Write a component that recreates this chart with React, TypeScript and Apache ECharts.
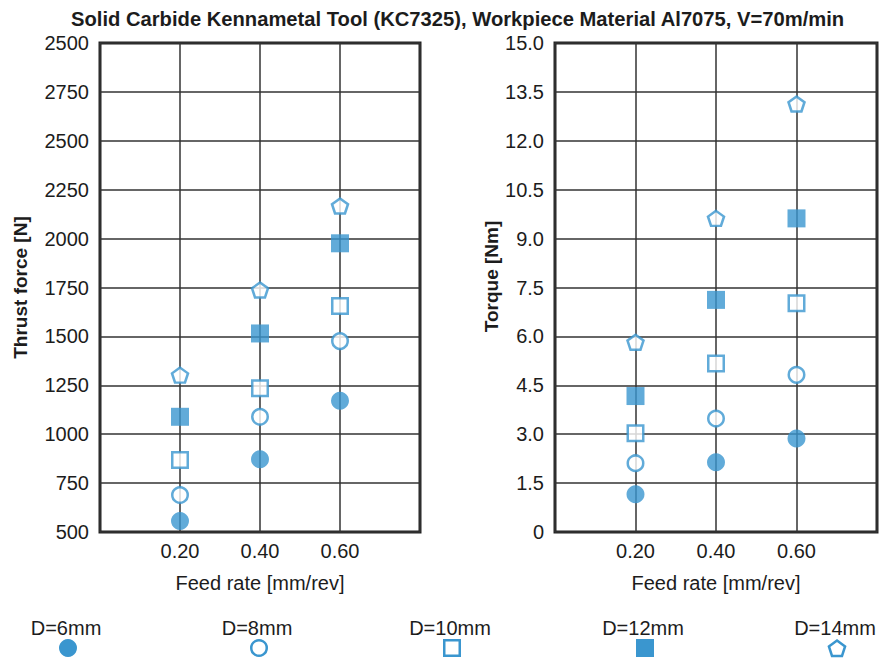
import React, { useEffect, useRef } from 'react';
import * as echarts from 'echarts';

const BLUE = '#3a96cf';
const INK = '#1c1c1c';
const GRIDC = '#333333';
const FONT = '"Liberation Sans", Arial, Helvetica, sans-serif';

const titleText = 'Solid Carbide Kennametal Tool (KC7325), Workpiece Material Al7075, V=70m/min';
const feedRates = [0.2, 0.4, 0.6];
const xTickLabels = ['', '0.20', '0.40', '0.60', ''];
const thrustTickLabels = ['500', '750', '1000', '1250', '1500', '1750', '2000', '2250', '2500', '2750', '2500'];
const torqueTickLabels = ['0', '1.5', '3.0', '4.5', '6.0', '7.5', '9.0', '10.5', '12.0', '13.5', '15.0'];
const diameterNames = ['D=6mm', 'D=8mm', 'D=10mm', 'D=12mm', 'D=14mm'];

// Thrust force [N]
const thrustD6 = [556, 872, 1171];
const thrustD8 = [689, 1089, 1476];
const thrustD10 = [868, 1235, 1655];
const thrustD12 = [1089, 1515, 1976];
const thrustD14 = [1302, 1737, 2167];

// Torque [Nm]
const torqueD6 = [1.16, 2.14, 2.87];
const torqueD8 = [2.11, 3.48, 4.82];
const torqueD10 = [3.03, 5.17, 7.02];
const torqueD12 = [4.17, 7.12, 9.62];
const torqueD14 = [5.82, 9.62, 13.13];

const thrustSets = [thrustD6, thrustD8, thrustD10, thrustD12, thrustD14];
const torqueSets = [torqueD6, torqueD8, torqueD10, torqueD12, torqueD14];

const PENT = 'path://M0,-100L95.1,-30.9L58.8,80.9L-58.8,80.9L-95.1,-30.9Z';

const markerStyles: any[] = [
  { symbol: 'circle', symbolSize: 18, itemStyle: { color: BLUE } },
  { symbol: 'circle', symbolSize: 15.5, itemStyle: { color: '#ffffff', borderColor: BLUE, borderWidth: 2.5 } },
  { symbol: 'rect', symbolSize: 15.5, itemStyle: { color: '#ffffff', borderColor: BLUE, borderWidth: 2.5 } },
  { symbol: 'rect', symbolSize: 18, itemStyle: { color: BLUE } },
  { symbol: PENT, symbolSize: [16, 15], itemStyle: { color: '#ffffff', borderColor: BLUE, borderWidth: 2.5 } },
];

const legendX = [68, 259, 452, 645, 837];

function legendMarker(i: number, x: number, y: number): any {
  const common = { x, y, silent: true };
  if (i === 0) return { type: 'circle', ...common, shape: { cx: 0, cy: 0, r: 9 }, style: { fill: BLUE } };
  if (i === 1) return { type: 'circle', ...common, shape: { cx: 0, cy: 0, r: 7.75 }, style: { fill: '#fff', stroke: BLUE, lineWidth: 2.5 } };
  if (i === 2) return { type: 'rect', ...common, shape: { x: -7.75, y: -7.75, width: 15.5, height: 15.5 }, style: { fill: '#fff', stroke: BLUE, lineWidth: 2.5 } };
  if (i === 3) return { type: 'rect', ...common, shape: { x: -9, y: -9, width: 18, height: 18 }, style: { fill: BLUE } };
  const r = 8.5;
  const pts: number[][] = [];
  for (let k = 0; k < 5; k++) {
    const a = -Math.PI / 2 + (k * 2 * Math.PI) / 5;
    pts.push([r * Math.cos(a), r * Math.sin(a) + 1]);
  }
  return { type: 'polygon', ...common, shape: { points: pts }, style: { fill: '#fff', stroke: BLUE, lineWidth: 2.5 } };
}

export default function App() {
  const ref = useRef<HTMLDivElement>(null);

  useEffect(() => {
    if (!ref.current) return;
    const chart = echarts.init(ref.current, null, { renderer: 'svg' });

    const xAxisBase = (gridIndex: number) => ({
      type: 'value',
      gridIndex,
      min: 0,
      max: 0.8,
      interval: 0.2,
      axisLine: { show: false },
      axisTick: { show: false },
      axisLabel: {
        formatter: (v: number) => xTickLabels[Math.round(v / 0.2)] ?? '',
        fontSize: 20,
        color: INK,
        fontFamily: FONT,
        margin: 9,
      },
      splitLine: { show: true, lineStyle: { color: GRIDC, width: 1.5 } },
      name: 'Feed rate [mm/rev]',
      nameLocation: 'middle',
      nameGap: 41,
      nameTextStyle: { fontSize: 20, color: INK, fontFamily: FONT },
    });

    const series: any[] = [];
    diameterNames.forEach((name, i) => {
      series.push({
        type: 'scatter',
        name,
        xAxisIndex: 0,
        yAxisIndex: 0,
        data: feedRates.map((f, k) => [f, thrustSets[i][k]]),
        ...markerStyles[i],
      });
      series.push({
        type: 'scatter',
        name,
        xAxisIndex: 1,
        yAxisIndex: 1,
        data: feedRates.map((f, k) => [f, torqueSets[i][k]]),
        ...markerStyles[i],
      });
    });

    const graphic: any[] = [];
    diameterNames.forEach((name, i) => {
      graphic.push({
        type: 'text',
        x: legendX[i] - 2,
        y: 628,
        silent: true,
        style: {
          text: name,
          fontSize: 20,
          fontFamily: FONT,
          fill: INK,
          textAlign: 'center',
          textVerticalAlign: 'middle',
        },
      });
      graphic.push(legendMarker(i, legendX[i], 648));
    });

    chart.setOption({
      animation: false,
      backgroundColor: '#ffffff',
      title: {
        text: titleText,
        left: 66,
        top: 4,
        textStyle: { fontSize: 20.2, fontWeight: 'bold', color: INK, fontFamily: FONT },
      },
      grid: [
        { left: 100, right: 464, top: 43, bottom: 126, show: true, borderColor: '#222', borderWidth: 3 },
        { left: 555, right: 7, top: 43, bottom: 126, show: true, borderColor: '#222', borderWidth: 3 },
      ],
      xAxis: [xAxisBase(0), xAxisBase(1)],
      yAxis: [
        {
          type: 'value',
          gridIndex: 0,
          min: 500,
          max: 3000,
          interval: 250,
          axisLine: { show: false },
          axisTick: { show: false },
          axisLabel: {
            formatter: (v: number) => thrustTickLabels[Math.round((v - 500) / 250)] ?? '',
            fontSize: 20,
            color: INK,
            fontFamily: FONT,
            margin: 11,
          },
          splitLine: { show: true, lineStyle: { color: GRIDC, width: 1.5 } },
          name: 'Thrust force [N]',
          nameLocation: 'middle',
          nameGap: 70,
          nameTextStyle: { fontSize: 19, fontWeight: 'bold', color: INK, fontFamily: FONT },
        },
        {
          type: 'value',
          gridIndex: 1,
          min: 0,
          max: 15,
          interval: 1.5,
          axisLine: { show: false },
          axisTick: { show: false },
          axisLabel: {
            formatter: (v: number) => torqueTickLabels[Math.round(v / 1.5)] ?? '',
            fontSize: 20,
            color: INK,
            fontFamily: FONT,
            margin: 11,
          },
          splitLine: { show: true, lineStyle: { color: GRIDC, width: 1.5 } },
          name: 'Torque [Nm]',
          nameLocation: 'middle',
          nameGap: 54,
          nameTextStyle: { fontSize: 19, fontWeight: 'bold', color: INK, fontFamily: FONT, padding: [0, 0, 0, 22] },
        },
      ],
      series,
      graphic,
    });

    return () => chart.dispose();
  }, []);

  return <div ref={ref} style={{ position: 'fixed', left: 0, top: 0, width: 884, height: 658 }} />;
}
